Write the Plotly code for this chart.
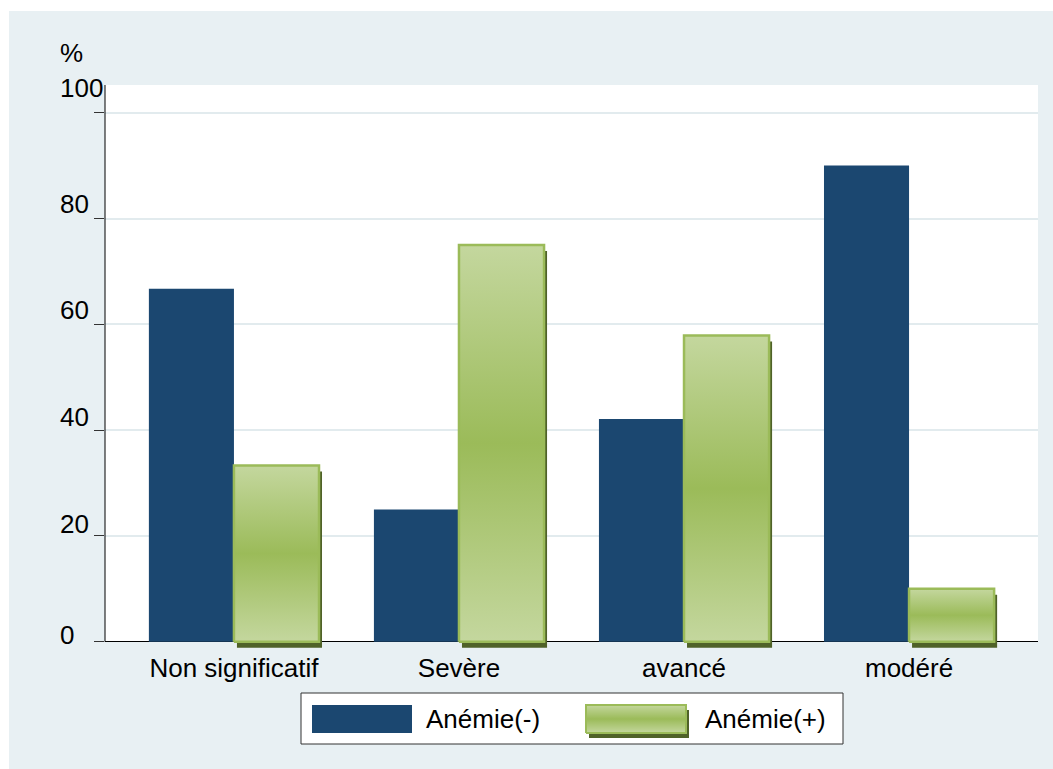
import plotly.graph_objects as go

# ---- data -------------------------------------------------------------
categories = ["Non significatif", "Sevère", "avancé", "modéré"]
anemie_neg = [66.7, 25.0, 42.1, 90.0]   # Anémie(-)
anemie_pos = [33.3, 75.0, 57.9, 10.0]   # Anémie(+)
y_ticks = [0, 20, 40, 60, 80, 100]
series_names = ["Anémie(-)", "Anémie(+)"]
y_unit = "%"

# ---- geometry / style -------------------------------------------------
W, H = 1053, 769
PLOT_L, PLOT_R, PLOT_T, PLOT_B = 105, 1038, 85, 648   # plotting area edges (px)
X_RANGE = [-0.573, 3.573]
Y_RANGE = [-1.19, 105.24]
BAR_W = 0.378

NAVY = "#1b4770"
GREEN = "#9bbb59"
GREEN_LIGHT = "#c4d79e"
OLIVE = "#4f6228"
BG = "#e8f0f3"
GRID = "#e2ebee"
FONT = "Liberation Sans, Arial, sans-serif"
FS = 26

px_x = (PLOT_R - PLOT_L) / (X_RANGE[1] - X_RANGE[0])
px_y = (PLOT_B - PLOT_T) / (Y_RANGE[1] - Y_RANGE[0])
SHADOW_DX = 3 / px_x
SHADOW_DY = 6 / px_y

idx = list(range(len(categories)))
green_scale = [[0, GREEN_LIGHT], [0.5, GREEN], [1, GREEN_LIGHT]]

fig = go.Figure()

# Anémie(-): solid navy bars, left half of each group
fig.add_trace(go.Bar(
    x=idx, y=anemie_neg, width=BAR_W, offset=-BAR_W,
    marker=dict(color=NAVY, line=dict(width=0)),
    name=series_names[0], showlegend=False, hoverinfo="skip",
))

# Anémie(+): drop shadow under the gradient bars
fig.add_trace(go.Bar(
    x=idx, y=anemie_pos, base=-SHADOW_DY, width=BAR_W, offset=SHADOW_DX,
    marker=dict(color=OLIVE, line=dict(width=0)),
    showlegend=False, hoverinfo="skip",
))

# Anémie(+): gradient-filled bars, right half of each group
for i, v in zip(idx, anemie_pos):
    fig.add_trace(go.Scatter(
        x=[i, i + BAR_W, i + BAR_W, i, i],
        y=[0, 0, v, v, 0],
        mode="lines", fill="toself",
        fillgradient=dict(type="vertical", colorscale=green_scale),
        line=dict(color=GREEN, width=2.5),
        name=series_names[1], showlegend=False, hoverinfo="skip",
    ))

# ---- legend drawn on a full-figure pixel overlay --------------------------
LEG_Y0, LEG_Y1 = 705, 733
fig.add_trace(go.Scatter(
    x=[586, 686, 686, 586, 586],
    y=[LEG_Y1, LEG_Y1, LEG_Y0, LEG_Y0, LEG_Y1],
    mode="lines", fill="toself",
    fillgradient=dict(type="vertical", colorscale=green_scale),
    line=dict(color=GREEN, width=2),
    xaxis="x2", yaxis="y2", showlegend=False, hoverinfo="skip",
))

shapes = [
    # outer background with a thin white border on the top/left
    dict(type="rect", xref="paper", yref="paper", x0=9 / W, x1=1, y0=0, y1=1 - 11 / H,
         fillcolor=BG, line=dict(width=0), layer="below"),
    # white plotting region
    dict(type="rect", xref="x domain", yref="y", x0=0, x1=1, y0=0, y1=Y_RANGE[1],
         fillcolor="white", line=dict(width=0), layer="below"),
    # vertical axis line from zero to the top
    dict(type="line", xref="paper", yref="y", x0=PLOT_L / W, x1=PLOT_L / W,
         y0=0, y1=Y_RANGE[1], line=dict(color="black", width=1)),
    # legend box and swatches
    dict(type="rect", xref="x2", yref="y2", x0=301, x1=843, y0=693, y1=744,
         fillcolor="white", line=dict(color="#333333", width=1), layer="below"),
    dict(type="rect", xref="x2", yref="y2", x0=312, x1=412, y0=LEG_Y0, y1=LEG_Y1,
         fillcolor=NAVY, line=dict(width=0), layer="below"),
    dict(type="rect", xref="x2", yref="y2", x0=589, x1=689, y0=LEG_Y0 + 5, y1=LEG_Y1 + 5,
         fillcolor=OLIVE, line=dict(width=0), layer="below"),
]

annotations = [
    dict(text=series_names[0], xref="x2", yref="y2", x=424, y=719,
         xanchor="left", yanchor="middle", showarrow=False,
         font=dict(family=FONT, size=FS, color="black")),
    dict(text=series_names[1], xref="x2", yref="y2", x=703, y=719,
         xanchor="left", yanchor="middle", showarrow=False,
         font=dict(family=FONT, size=FS, color="black")),
    dict(text=y_unit, xref="paper", yref="paper", x=58 / W, y=1 - 53 / H,
         xanchor="left", yanchor="middle", showarrow=False,
         font=dict(family=FONT, size=FS, color="black")),
]

# left-aligned y tick labels, sitting slightly above their ticks
label_lift = {0: 7, 20: 12, 40: 13, 60: 14, 80: 15, 100: 25}
for t in y_ticks:
    annotations.append(dict(
        text=str(t), xref="paper", yref="y", x=58 / W, y=t, yshift=label_lift[t],
        xanchor="left", yanchor="middle", showarrow=False,
        font=dict(family=FONT, size=FS, color="black"),
    ))

fig.update_layout(
    width=W, height=H,
    margin=dict(l=0, r=0, t=0, b=0),
    paper_bgcolor="white",
    plot_bgcolor="rgba(0,0,0,0)",
    barmode="overlay",
    showlegend=False,
    font=dict(family=FONT, size=FS, color="black"),
    shapes=shapes,
    annotations=annotations,
    xaxis=dict(
        domain=[PLOT_L / W, PLOT_R / W], range=X_RANGE, anchor="y",
        tickmode="array", tickvals=idx, ticktext=categories,
        ticks="", showgrid=False, zeroline=False, showline=False,
        tickfont=dict(family=FONT, size=FS, color="black"),
        ticklabelstandoff=2,
    ),
    yaxis=dict(
        domain=[1 - PLOT_B / H, 1 - PLOT_T / H], range=Y_RANGE, anchor="x",
        tickmode="array", tickvals=y_ticks, showticklabels=False,
        ticks="outside", ticklen=10, tickwidth=1, tickcolor="#333333",
        showgrid=True, gridcolor=GRID, gridwidth=2,
        zeroline=True, zerolinecolor="black", zerolinewidth=1,
        showline=False,
    ),
    xaxis2=dict(domain=[0, 1], range=[0, W], anchor="y2", visible=False),
    yaxis2=dict(domain=[0, 1], range=[H, 0], anchor="x2", visible=False),
)

fig.write_html("out.html")
